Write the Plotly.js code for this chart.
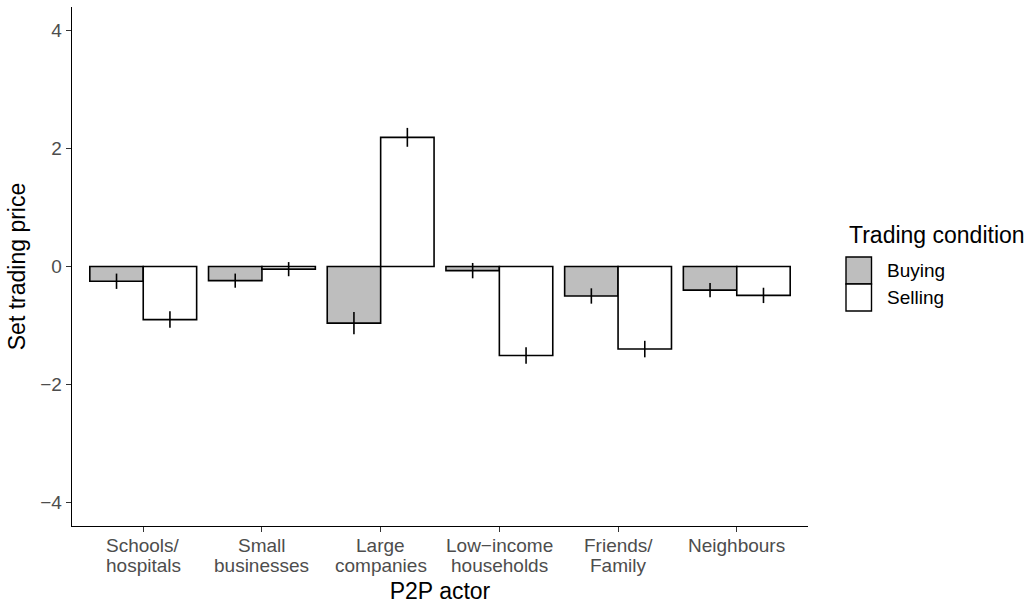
<!DOCTYPE html>
<html>
<head>
<meta charset="utf-8">
<script src="https://cdn.plot.ly/plotly-3.0.1.min.js"></script>
<style>html,body{margin:0;padding:0;background:#fff;}#chart{width:1031px;height:604px;}</style>
</head>
<body>
<div id="chart"></div>
<script>
const categories = ["Schools/<br>hospitals", "Small<br>businesses", "Large<br>companies", "Low−income<br>households", "Friends/<br>Family", "Neighbours"];
const seriesNames = ["Buying", "Selling"];
const buyingMean = [-0.25, -0.24, -0.96, -0.07, -0.50, -0.40];
const buyingErr  = [0.13, 0.12, 0.19, 0.13, 0.13, 0.12];
const sellingMean = [-0.90, -0.045, 2.19, -1.51, -1.40, -0.49];
const sellingErr  = [0.14, 0.12, 0.16, 0.14, 0.14, 0.13];
const yTicks = [-4, -2, 0, 2, 4];
const fills = ["#BEBEBE", "#FFFFFF"];

const means = [buyingMean, sellingMean];
const errs = [buyingErr, sellingErr];

const traces = seriesNames.map((name, i) => ({
  type: "bar",
  name: name,
  x: categories,
  y: means[i],
  marker: {color: fills[i], line: {color: "#000000", width: 1.6}},
  error_y: {type: "data", array: errs[i], visible: true, color: "#000000", thickness: 1.6, width: 0},
  showlegend: false,
  hoverinfo: "skip"
}));

const L = 72, R = 808, T = 7, B = 526;
const pw = R - L, ph = B - T;
const px = v => (v - L) / pw;
const py = v => (B - v) / ph;
const FONT = "Liberation Sans, Arial, Helvetica, sans-serif";

const shapes = [];
const annotations = [{
  text: "Trading condition", xref: "paper", yref: "paper",
  x: px(847), y: py(235), xanchor: "left", yanchor: "middle", showarrow: false,
  font: {family: FONT, size: 23, color: "#000000"}
}];
seriesNames.forEach((name, i) => {
  const top = 257 + i * 27;
  shapes.push({type: "rect", xref: "paper", yref: "paper",
    x0: px(846), x1: px(871.5), y0: py(top + 27), y1: py(top),
    fillcolor: fills[i], line: {color: "#000000", width: 1.4}});
  annotations.push({text: name, xref: "paper", yref: "paper",
    x: px(885), y: py(top + 13.5), xanchor: "left", yanchor: "middle", showarrow: false,
    font: {family: FONT, size: 19, color: "#000000"}});
});
// category tick labels, one annotation per line for tighter line spacing (ggplot lineheight 0.9)
categories.forEach(cat => {
  cat.split("<br>").forEach((line, j) => {
    annotations.push({text: line, xref: "x", yref: "paper", x: cat,
      y: py(545 + j * 20.3), xanchor: "center", yanchor: "middle", showarrow: false,
      font: {family: FONT, size: 19, color: "#4D4D4D"}});
  });
});

const layout = {
  width: 1031, height: 604,
  margin: {l: L, r: 1031 - R, t: T, b: 604 - B, pad: 0},
  paper_bgcolor: "#ffffff", plot_bgcolor: "#ffffff",
  barmode: "group", bargap: 0.1, bargroupgap: 0,
  font: {family: FONT, color: "#000000"},
  xaxis: {
    range: [-0.6, 5.6], showgrid: false, zeroline: false,
    showline: true, linecolor: "#000000", linewidth: 1.4,
    ticks: "outside", ticklen: 5, tickwidth: 1.1, tickcolor: "#333333",
    showticklabels: false,
    title: {text: "P2P actor", font: {size: 23, color: "#000000"}, standoff: 52},
    automargin: false, fixedrange: true
  },
  yaxis: {
    range: [-4.4, 4.4], tickvals: yTicks,
    showgrid: false, zeroline: false,
    showline: true, linecolor: "#000000", linewidth: 1.4,
    ticks: "outside", ticklen: 5, tickwidth: 1.1, tickcolor: "#333333",
    tickfont: {size: 19, color: "#4D4D4D"},
    title: {text: "Set trading price", font: {size: 23, color: "#000000"}, standoff: 8},
    automargin: false, fixedrange: true
  },
  shapes: shapes,
  annotations: annotations
};

Plotly.newPlot("chart", traces, layout, {displayModeBar: false, staticPlot: true});
</script>
</body>
</html>
